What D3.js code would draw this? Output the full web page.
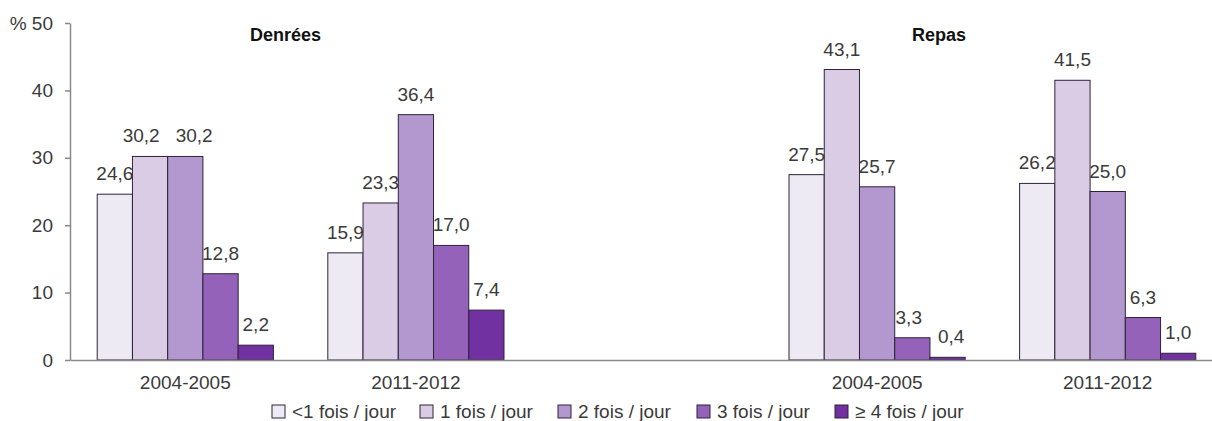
<!DOCTYPE html>
<html>
<head>
<meta charset="utf-8">
<script src="https://cdn.jsdelivr.net/npm/d3@7"></script>
<style>
  body { margin: 0; background: #fff; }
  text { font-family: Arial, "Liberation Sans", sans-serif; }
</style>
</head>
<body>
<div id="chart"></div>
<script>
// data
var groups = ["D1", "D2", "gap", "R1", "R2"];
var groupLabels = { D1: "2004-2005", D2: "2011-2012", gap: "", R1: "2004-2005", R2: "2011-2012" };
var series = ["<1 fois / jour", "1 fois / jour", "2 fois / jour", "3 fois / jour", "\u2265 4 fois / jour"];
var denrees2004 = [24.6, 30.2, 30.2, 12.8, 2.2];
var denrees2011 = [15.9, 23.3, 36.4, 17.0, 7.4];
var repas2004 = [27.5, 43.1, 25.7, 3.3, 0.4];
var repas2011 = [26.2, 41.5, 25.0, 6.3, 1.0];
var yTicks = [0, 10, 20, 30, 40, 50];

var colors = ["#eeeaf4", "#dbcce6", "#b398d0", "#9562b9", "#7131a1"];

var values = { D1: denrees2004, D2: denrees2011, R1: repas2004, R2: repas2011 };

var fontSize = 19;
var width = 1212, height = 421;
var margin = { top: 23, left: 70, bottom: 61 };
var baseY = height - margin.bottom; // 360

var svg = d3.select("#chart").append("svg")
    .attr("width", width)
    .attr("height", height);

var y = d3.scaleLinear()
    .domain([0, 50])
    .range([baseY, margin.top]);

var x = d3.scaleBand()
    .domain(groups)
    .range([margin.left, 1223])
    .paddingInner(0.236)
    .paddingOuter(0.118);

var xs = d3.scaleBand()
    .domain(d3.range(series.length))
    .range([0, x.bandwidth()]);

// bars
var rows = [];
groups.forEach(function(g) {
  if (!values[g]) return;
  values[g].forEach(function(v, i) {
    rows.push({ g: g, i: i, v: v, cx: x(g) + xs(i) + xs.bandwidth() / 2 });
  });
});

svg.append("g").selectAll("rect")
    .data(rows)
    .enter().append("rect")
    .attr("x", function(d) { return x(d.g) + xs(d.i); })
    .attr("y", function(d) { return y(d.v); })
    .attr("width", xs.bandwidth())
    .attr("height", function(d) { return baseY - y(d.v); })
    .attr("fill", function(d) { return colors[d.i]; })
    .attr("stroke", "#2e2337")
    .attr("stroke-width", 1);

// value labels
var labels = svg.append("g").selectAll("text")
    .data(rows)
    .enter().append("text")
    .attr("x", function(d) { return d.cx; })
    .attr("y", function(d) { return y(d.v) - 14; })
    .attr("text-anchor", "middle")
    .attr("font-size", fontSize)
    .attr("fill", "#3a3a3a")
    .text(function(d) { return d.v.toFixed(1).replace(".", ","); });

// push apart neighbouring labels that sit at about the same height
labels.each(function(d) { d.w = this.getComputedTextLength(); });
for (var k = 1; k < rows.length; k++) {
  var a = rows[k - 1], b = rows[k];
  if (a.g !== b.g) continue;
  if (Math.abs(y(a.v) - y(b.v)) > 20) continue;
  var need = (a.w + b.w) / 2 + 16;
  var have = b.cx - a.cx;
  if (have < need) {
    a.cx -= (need - have) / 2;
    b.cx += (need - have) / 2;
  }
}
labels.attr("x", function(d) { return d.cx; });

// y axis
var yAxis = svg.append("g")
    .attr("transform", "translate(" + margin.left + ",0)")
    .call(d3.axisLeft(y)
      .tickValues(yTicks)
      .tickSize(5)
      .tickPadding(12)
      .tickSizeOuter(0)
      .tickFormat(function(d) { return d === 50 ? "% 50" : d; }));
yAxis.select(".domain").attr("stroke", "#8a8a8a").attr("stroke-width", 1.5);
yAxis.selectAll(".tick line").attr("stroke", "#8a8a8a").attr("stroke-width", 1.5);
yAxis.selectAll("text")
    .attr("font-size", fontSize)
    .attr("font-family", "Arial, 'Liberation Sans', sans-serif")
    .attr("fill", "#3a3a3a");

// x axis
var xAxis = svg.append("g")
    .attr("transform", "translate(0," + baseY + ")")
    .call(d3.axisBottom(x)
      .tickSize(0)
      .tickSizeOuter(0)
      .tickPadding(16)
      .tickFormat(function(d) { return groupLabels[d]; }));
xAxis.select(".domain").attr("stroke", "#8a8a8a").attr("stroke-width", 1.5);
xAxis.selectAll("text")
    .attr("font-size", fontSize)
    .attr("font-family", "Arial, 'Liberation Sans', sans-serif")
    .attr("fill", "#3a3a3a");

// panel titles
svg.append("text")
    .attr("x", 250).attr("y", 41)
    .attr("font-size", 18)
    .attr("font-weight", "bold")
    .attr("fill", "#111")
    .text("Denrées");
svg.append("text")
    .attr("x", 912).attr("y", 41)
    .attr("font-size", 18)
    .attr("font-weight", "bold")
    .attr("fill", "#111")
    .text("Repas");

// legend
var legendX = [272, 420, 558, 697, 835];
var legend = svg.append("g").selectAll("g")
    .data(series)
    .enter().append("g")
    .attr("transform", function(d, i) { return "translate(" + legendX[i] + ",405)"; });
legend.append("rect")
    .attr("width", 13)
    .attr("height", 13)
    .attr("fill", function(d, i) { return colors[i]; })
    .attr("stroke", "#2e2337")
    .attr("stroke-width", 1);
legend.append("text")
    .attr("x", 20)
    .attr("y", 13)
    .attr("font-size", fontSize)
    .attr("fill", "#3a3a3a")
    .text(function(d) { return d; });
</script>
</body>
</html>
